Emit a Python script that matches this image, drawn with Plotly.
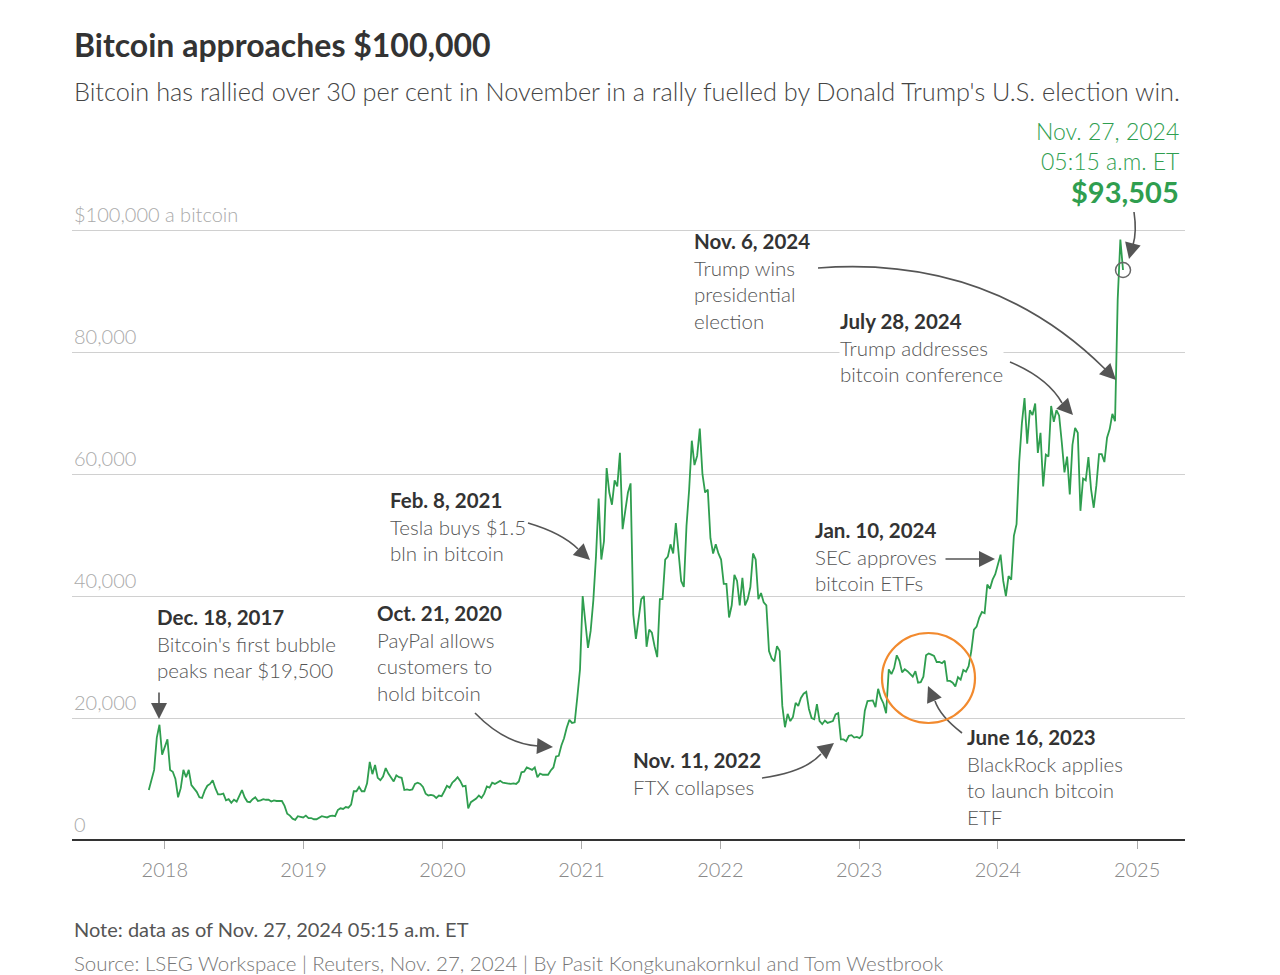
import pandas as pd
import plotly.graph_objects as go

# weekly closes (thousands of US$); each year starts on its first Monday
start_2017 = "2017-11-20"
price_2017 = [8.2, 9.8, 11.5, 16.8, 18.9, 14.0]
start_2018 = "2018-01-01"
price_2018 = [15.2, 16.5, 11.5, 11.2, 10.0,
              7.0, 8.5, 11.5, 10.3,
              11.5, 9.0, 8.5, 7.9,
              7.0, 6.9, 8.1, 8.9, 9.2,
              9.8, 8.5, 7.5, 7.5,
              7.6, 6.5, 6.7, 6.1,
              6.6, 6.3, 7.4, 8.2, 7.0,
              6.3, 6.2, 6.7, 7.0,
              6.4, 6.5, 6.7, 6.6,
              6.6, 6.3, 6.5, 6.4, 6.4,
              6.4, 5.6, 4.3, 4.0,
              3.5, 3.3, 3.9, 3.8, 3.7]
start_2019 = "2019-01-07"
price_2019 = [4.0, 3.6, 3.6, 3.4,
              3.4, 3.6, 3.9, 3.8,
              3.7, 3.9, 4.0, 3.9,
              4.9, 5.2, 5.1, 5.4, 5.3,
              5.8, 8.0, 8.0, 8.7,
              8.0, 8.0, 9.3, 12.8,
              10.8, 12.3, 10.2, 9.8, 10.4,
              11.8, 10.9, 10.3, 9.6,
              10.6, 10.3, 10.2, 8.2, 8.3,
              8.2, 8.3, 9.2, 9.4,
              9.2, 8.7, 7.6, 7.3,
              7.4, 7.3, 6.9, 7.3, 7.2]
start_2020 = "2020-01-06"
price_2020 = [8.0, 8.9, 8.6, 9.4,
              9.8, 10.3, 9.7, 8.8,
              8.9, 5.2, 6.2, 6.5, 6.8,
              7.3, 6.9, 7.6, 8.8,
              8.6, 9.4, 9.2, 9.5,
              9.7, 9.4, 9.3, 9.2, 9.2,
              9.3, 9.2, 9.6, 11.1,
              11.2, 11.9, 11.7, 11.5, 11.9,
              10.3, 10.9, 10.7, 10.7,
              10.7, 11.4, 11.9, 13.7,
              13.8, 15.5, 16.7, 18.4, 19.7,
              19.2, 19.3, 23.5, 28.0]
start_2021 = "2021-01-04"
price_2021 = [40.0, 36.0, 31.5, 34.3,
              39.3, 46.5, 56.0, 46.0,
              49.0, 61.0, 57.0, 55.0, 59.0,
              58.0, 63.5, 51.0, 54.0,
              57.0, 58.5, 37.0, 33.0, 36.5,
              39.5, 40.0, 31.7, 34.5,
              34.0, 31.8, 30.0, 39.5,
              39.5, 46.0, 46.5, 48.5, 47.0,
              52.0, 47.0, 42.5, 41.5,
              51.5, 57.5, 65.5, 61.5,
              63.0, 67.5, 60.0, 57.0, 57.5,
              49.5, 47.0, 48.5, 47.0]
start_2022 = "2022-01-03"
price_2022 = [46.0, 42.0, 42.0, 36.5, 38.5,
              43.5, 42.5, 38.5, 43.0,
              38.5, 39.5, 41.5, 47.0,
              46.0, 39.5, 40.5, 39.0,
              38.5, 31.0, 29.8, 29.3, 31.8,
              31.0, 22.0, 18.5, 20.7,
              19.5, 20.2, 22.5, 22.0,
              23.3, 24.0, 24.3, 21.5, 20.0,
              19.8, 22.3, 19.5, 19.0,
              19.6, 19.2, 19.3, 19.5, 20.6,
              20.8, 16.5, 16.5, 16.2,
              17.1, 17.2, 16.8, 16.9]
start_2023 = "2023-01-02"
price_2023 = [16.7, 17.2, 21.2, 22.8, 22.8,
              22.9, 21.8, 24.8, 23.3,
              22.4, 20.8, 28.0, 27.2,
              28.2, 30.3, 29.4, 27.5,
              28.0, 27.7, 27.2, 26.8, 27.7,
              25.8, 25.9, 26.8, 30.3,
              30.6, 30.4, 30.2, 29.2, 29.2,
              29.0, 29.4, 26.1, 26.1,
              25.8, 25.2, 26.7, 26.3,
              27.9, 27.6, 28.5, 31.0, 34.5,
              35.0, 36.5, 37.4, 37.2,
              41.9, 41.2, 42.7, 43.6]
start_2024 = "2024-01-01"
price_2024 = [45.0, 46.8, 42.5, 40.0, 43.3,
              42.7, 49.9, 51.8, 62.0,
              68.3, 72.5, 65.0, 70.5,
              69.7, 71.6, 63.5, 66.8, 58.0,
              63.2, 62.9, 71.2, 68.6,
              70.5, 69.6, 65.2, 60.3,
              62.9, 56.7, 64.8, 67.6, 66.8,
              54.0, 59.3, 59.0, 62.8,
              57.5, 54.5, 58.2, 63.3, 63.3,
              62.0, 66.0, 67.4, 69.9,
              68.7, 88.7, 98.5, 93.5]

year_ticks = ["2018-01-01", "2019-01-01", "2020-01-01", "2021-01-01",
              "2022-01-01", "2023-01-01", "2024-01-01", "2025-01-01"]
year_labels = ["2018", "2019", "2020", "2021", "2022", "2023", "2024", "2025"]
grid_vals = [0, 20000, 40000, 60000, 80000, 100000]
grid_labels = ["0", "20,000", "40,000", "60,000", "80,000", "$100,000 a bitcoin"]

segments = [(start_2017, price_2017), (start_2018, price_2018), (start_2019, price_2019),
            (start_2020, price_2020), (start_2021, price_2021), (start_2022, price_2022),
            (start_2023, price_2023), (start_2024, price_2024)]
dates, prices = [], []
for start, vals in segments:
    dates += list(pd.date_range(start, periods=len(vals), freq="7D"))
    prices += [v * 1000 for v in vals]

GREEN = "#2f9e4f"
ARROW = "#555555"
FONT = "Lato"
LIGHT = 300

# plot area in page pixels, used to place the notes around the chart
L, R, T, B = 72, 1185, 206, 840


def px(x):
    return (x - L) / (R - L)


def py(y):
    return (B - y) / (B - T)


fig = go.Figure()
fig.add_trace(go.Scatter(x=dates, y=prices, mode="lines",
                         line=dict(color=GREEN, width=1.8), hoverinfo="skip"))
# open circle on the latest price
fig.add_trace(go.Scatter(x=[dates[-1]], y=[prices[-1]], mode="markers",
                         marker=dict(symbol="circle-open", size=15, color="#666", line=dict(width=1.5)),
                         hoverinfo="skip"))

fig.update_layout(
    width=1280, height=975,
    margin=dict(l=L, r=1280 - R, t=T, b=975 - B),
    paper_bgcolor="white", plot_bgcolor="white",
    showlegend=False,
    font=dict(family=FONT, color="#555", weight=LIGHT),
    xaxis=dict(range=["2017-05-02", "2025-05-07"], tickvals=year_ticks, ticktext=year_labels,
               showgrid=False, zeroline=False, showline=False,
               ticks="outside", ticklen=8, tickcolor="#aaa", tickwidth=1,
               tickfont=dict(size=20, color="#888", weight=LIGHT), ticklabelstandoff=4),
    yaxis=dict(range=[0, 104000], tickvals=grid_vals, showticklabels=False,
               showgrid=True, gridcolor="#d0d0d0", gridwidth=1,
               zeroline=True, zerolinecolor="#333", zerolinewidth=2, showline=False),
)

# y-axis labels sit above their gridlines
for v, t in zip(grid_vals, grid_labels):
    fig.add_annotation(x=0, xref="paper", y=v, yref="y", text=t, showarrow=False,
                       xanchor="left", yanchor="bottom", yshift=2,
                       font=dict(size=20, color="#aaa", weight=LIGHT))

# title block and footer
fig.add_annotation(x=px(72), y=py(44), xref="paper", yref="paper", xanchor="left", yanchor="middle",
                   text="<b>Bitcoin approaches $100,000</b>", showarrow=False,
                   font=dict(size=32, color="#333"))
fig.add_annotation(x=px(72), y=py(91), xref="paper", yref="paper", xanchor="left", yanchor="middle",
                   text="Bitcoin has rallied over 30 per cent in November in a rally fuelled by Donald Trump's U.S. election win.",
                   showarrow=False, font=dict(size=25.3, color="#444", weight=LIGHT))
fig.add_annotation(x=px(72), y=py(929), xref="paper", yref="paper", xanchor="left", yanchor="middle",
                   text="Note: data as of Nov. 27, 2024 05:15 a.m. ET", showarrow=False,
                   font=dict(size=20, color="#555", weight=400))
fig.add_annotation(x=px(72), y=py(963), xref="paper", yref="paper", xanchor="left", yanchor="middle",
                   text="Source: LSEG Workspace | Reuters, Nov. 27, 2024 | By Pasit Kongkunakornkul and Tom Westbrook",
                   showarrow=False, font=dict(size=20.5, color="#777", weight=LIGHT))

# latest price label, one line each
latest_lines = [(131, "Nov. 27, 2024", 23, LIGHT),
                (161, "05:15 a.m. ET", 23, LIGHT),
                (192, "<b>$93,505</b>", 29, 700)]
for y, t, size, w in latest_lines:
    fig.add_annotation(x=px(1181), y=py(y), xref="paper", yref="paper", xanchor="right", yanchor="middle",
                       showarrow=False, text=t, font=dict(size=size, color=GREEN, weight=w))

# event notes: (left, top, bold date, body lines, white background)
notes = [
    (156, 604, "Dec. 18, 2017", "Bitcoin's first bubble<br>peaks near $19,500", False),
    (376, 600, "Oct. 21, 2020", "PayPal allows<br>customers to<br>hold bitcoin", False),
    (389, 487, "Feb. 8, 2021", "Tesla buys $1.5<br>bln in bitcoin", False),
    (632, 747, "Nov. 11, 2022", "FTX collapses", False),
    (814, 517, "Jan. 10, 2024", "SEC approves<br>bitcoin ETFs", False),
    (966, 724, "June 16, 2023", "BlackRock applies<br>to launch bitcoin<br>ETF", False),
    (839, 308, "July 28, 2024", "Trump addresses<br>bitcoin conference", True),
    (693, 228, "Nov. 6, 2024", "Trump wins<br>presidential<br>election", False),
]
for x, y, head, body, bg in notes:
    fig.add_annotation(x=px(x), y=py(y), xref="paper", yref="paper", xanchor="left", yanchor="top",
                       align="left", showarrow=False, borderpad=0,
                       bgcolor="white" if bg else None,
                       text=f"<b><span style='color:#333'>{head}</span></b><br>{body}",
                       font=dict(size=20.5, color="#555", weight=LIGHT))

# curved leader lines: (start, control, end) in page pixels
curves = [
    ((475, 713), (505, 744), (538, 746)),
    ((528, 523), (562, 533), (578, 549)),
    ((762, 778), (805, 772), (821, 754)),
    ((962, 733), (940, 716), (935, 701)),
    ((1010, 362), (1048, 378), (1062, 403)),
    ((818, 268), (990, 255), (1105, 369)),
    ((1134, 212), (1137, 232), (1133, 245)),
]
for (x0, y0), (cx, cy), (x1, y1) in curves:
    fig.add_shape(type="path", xref="paper", yref="paper",
                  path=f"M {px(x0)},{py(y0)} Q {px(cx)},{py(cy)} {px(x1)},{py(y1)}",
                  line=dict(color=ARROW, width=1.6))

# arrowheads: tip position and tail offset in pixels
heads = [
    ((159, 719), (0, -28)),
    ((553, 747), (-16, -1)),
    ((590, 560), (-13, -12)),
    ((834, 743), (-14, 11)),
    ((995, 559), (-51, 0)),
    ((928, 686), (7, 16)),
    ((1073, 415), (-12, -13)),
    ((1116, 380), (-12, -12)),
    ((1129, 259), (4, -16)),
]
for (x, y), (ax, ay) in heads:
    fig.add_annotation(x=px(x), y=py(y), xref="paper", yref="paper", ax=ax, ay=ay,
                       text="", showarrow=True, arrowhead=2, arrowsize=2,
                       arrowwidth=1.6, arrowcolor=ARROW)

# orange ring round the mid-2023 range
fig.add_shape(type="circle", xref="paper", yref="paper",
              x0=px(882), x1=px(975), y0=py(723), y1=py(633),
              line=dict(color="#f28a2e", width=2.2))

fig.write_html("out.html", config={"displayModeBar": False},
               post_script="document.body.style.margin='0';")
